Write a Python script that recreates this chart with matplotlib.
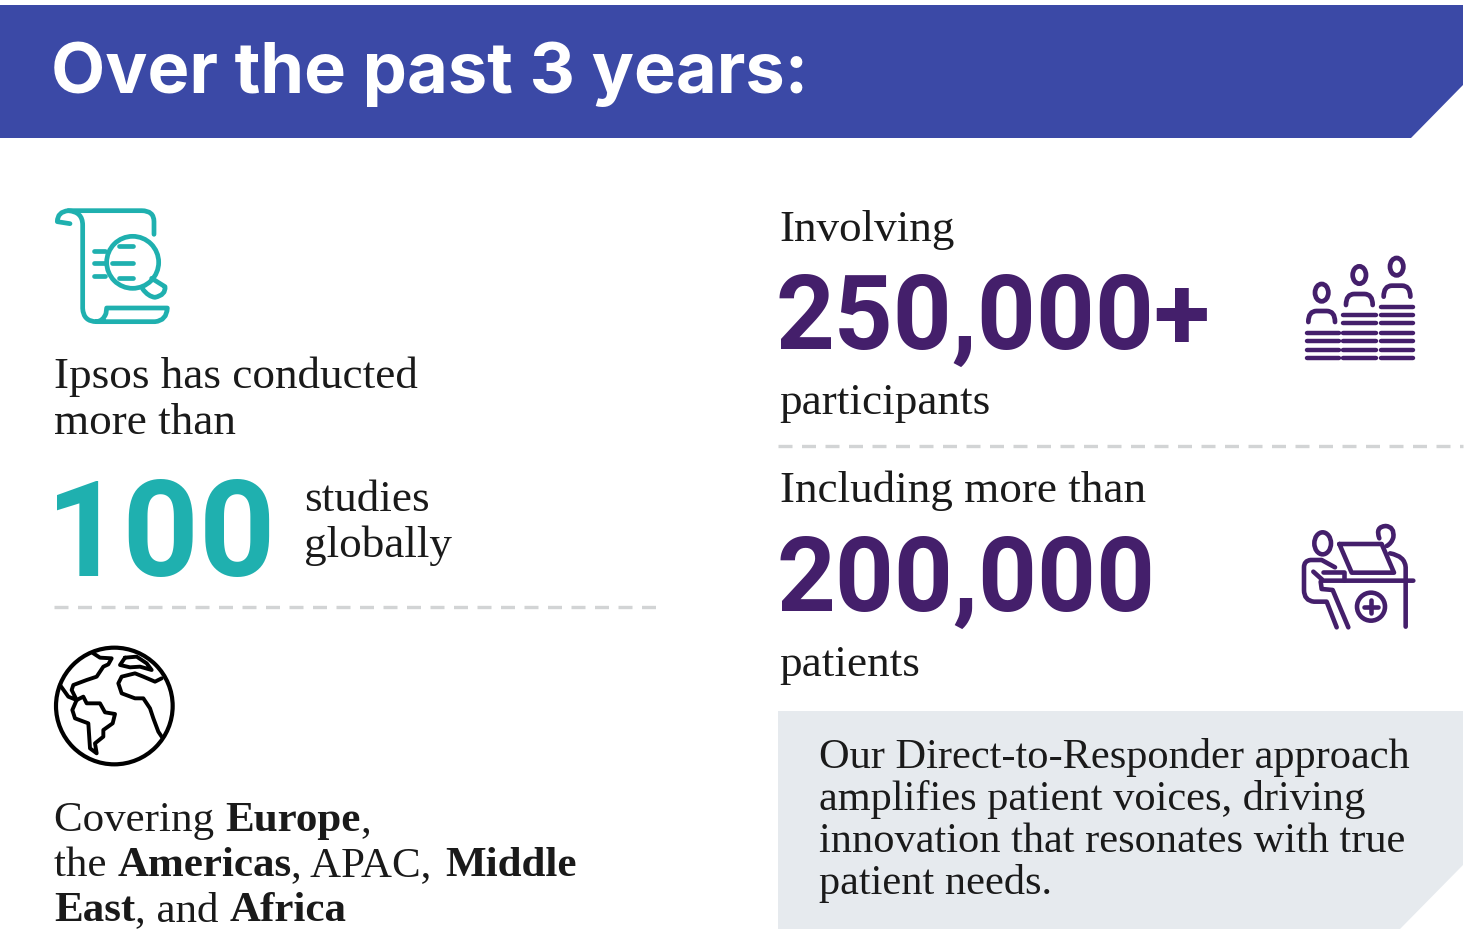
import numpy as np
from matplotlib import pyplot as plt
from matplotlib.path import Path
from matplotlib.patches import PathPatch, Polygon, Circle, Ellipse

BLUE = '#3B49A6'
TEAL = '#1FB0AF'
PURPLE = '#441F6B'
GREY_BOX = '#E6EAEE'
DASH = '#D2D4D5'
INK = '#1A1A1A'

SANS = 'Inter'
DIGITS = 'Roboto'
SERIF = 'Liberation Serif'

title = 'Over the past 3 years:'
big_numbers = ['100', '250,000+', '200,000']
box_lines = ['Our Direct-to-Responder approach',
             'amplifies patient voices, driving',
             'innovation that resonates with true',
             'patient needs.']
region_lines = [[('Covering ', False), ('Europe', True), (',', False)],
                [('the ', False), ('Americas', True), (', APAC, ', False), ('Middle', True)],
                [('East', True), (', and ', False), ('Africa', True)]]

fig = plt.figure(figsize=(14.7, 9.37), dpi=100)
ax = fig.add_axes([0, 0, 1, 1])
ax.set_xlim(0, 1470)
ax.set_ylim(936, -1)
ax.axis('off')


def stroke(spec, color, lw, ox, oy):
    # tiny svg-like path: M x y, L x y, Q cx cy x y, all in zoomed crop pixels (3x)
    tok = spec.split()
    verts, codes = [], []
    i = 0
    while i < len(tok):
        c = tok[i]
        if c == 'M' or c == 'L':
            verts.append((float(tok[i + 1]) / 3 + ox, float(tok[i + 2]) / 3 + oy))
            codes.append(Path.MOVETO if c == 'M' else Path.LINETO)
            i += 3
        else:
            verts.append((float(tok[i + 1]) / 3 + ox, float(tok[i + 2]) / 3 + oy))
            verts.append((float(tok[i + 3]) / 3 + ox, float(tok[i + 4]) / 3 + oy))
            codes += [Path.CURVE3, Path.CURVE3]
            i += 5
    ax.add_patch(PathPatch(Path(verts, codes), fc='none', ec=color, lw=lw,
                           capstyle='round', joinstyle='round'))


def serif(x, y, s, size=32.5, weight='normal', color=INK):
    return ax.text(x, y - 1, s, family=SERIF, fontsize=size, weight=weight, color=color,
                   va='baseline', ha='left')


def runs(x, y, parts, size=31):
    renderer = fig.canvas.get_renderer()
    for s, bold in parts:
        serif(x, y, s, size, 'bold' if bold else 'normal')
        # trailing spaces are not counted by the extent, add them by hand
        probe = serif(x, y, s.replace(' ', '.'), size, 'bold' if bold else 'normal')
        x += probe.get_window_extent(renderer).width
        probe.remove()


# header and grey box
ax.add_patch(Polygon([(0, 5), (1463, 5), (1463, 85), (1411, 138), (0, 138)], fc=BLUE, ec='none'))
ax.add_patch(Polygon([(778, 711), (1463, 711), (1463, 865), (1400, 929), (778, 929)], fc=GREY_BOX, ec='none'))
ax.text(51, 92, title, family=SANS, weight='bold', fontsize=50.7, color='white', va='baseline')

# dashed separators
ax.plot([54, 660], [607, 607], color=DASH, lw=2.4, dashes=(4.2, 2.85))
ax.plot([778, 1463], [446, 446], color=DASH, lw=2.4, dashes=(4.2, 2.85))

# left column
serif(54, 388, 'Ipsos has conducted')
serif(54, 434, 'more than')
ax.text(46, 575, big_numbers[0], family=DIGITS, weight='bold', fontsize=96, color=TEAL, va='baseline')
serif(304, 511, 'studies')
serif(304, 557, 'globally')
for y, parts in zip([831, 876, 921], region_lines):
    runs(54, y, parts)

# right column
serif(779, 241, 'Involving')
ax.text(776, 348, big_numbers[1], family=DIGITS, weight='bold', fontsize=74, color=PURPLE, va='baseline')
serif(779, 414, 'participants')
serif(780, 502, 'Including more than')
ax.text(777, 610, big_numbers[2], family=DIGITS, weight='bold', fontsize=74, color=PURPLE, va='baseline')
serif(779, 676, 'patients')
for y, s in zip([768, 810, 852, 894], box_lines):
    serif(819, y, s, size=30.5)

# scroll icon
ox, oy = 40, 190
for s in ['M 342 133 L 342 95 Q 342 62 305 62 L 85 62 Q 52 65 52 95 L 90 101',
          'M 85 62 Q 128 65 128 105 L 128 355 Q 130 395 170 395 L 345 395 Q 380 392 382 354 L 200 354 L 198 370 Q 190 393 170 395',
          'M 162 183 L 195 183', 'M 162 220 L 195 220', 'M 162 258 L 195 258',
          'M 237 169 L 280 169', 'M 217 219 L 280 219', 'M 237 265 L 280 265',
          'M 335 265 L 375 290 Q 378 315 345 322 Q 325 320 308 297']:
    stroke(s, TEAL, 3.4, ox, oy)
ax.add_patch(Circle((278 / 3 + ox, 217 / 3 + oy), 78 / 3, fc='none', ec=TEAL, lw=3.4))

# people icon
ox, oy = 1290, 240
for cx, cy in [(95, 158), (208, 105), (320, 80)]:
    ax.add_patch(Ellipse((cx / 3 + ox, cy / 3 + oy), 40 / 3, 52 / 3, fc='none', ec=PURPLE, lw=3.4))
for x0, y0 in [(55, 246), (168, 195), (281, 170)]:
    stroke(f'M {x0} {y0} Q {x0} {y0 - 33} {x0 + 25} {y0 - 33} L {x0 + 55} {y0 - 33} Q {x0 + 80} {y0 - 33} {x0 + 80} {y0}',
           PURPLE, 3.4, ox, oy)
bar_rows = [(50, 148, [278, 303, 330, 355]),
            (160, 258, [225, 250, 278, 303, 330, 355]),
            (272, 370, [200, 225, 250, 278, 303, 330, 355])]
for x0, x1, ys in bar_rows:
    for y in ys:
        stroke(f'M {x0} {y} L {x1} {y}', PURPLE, 3.2, ox, oy)

# desk icon
ox, oy = 1290, 510
for s in ['M 135 172 L 95 150 L 62 150 Q 42 152 42 172 L 42 240 Q 42 272 72 275 L 110 275 L 140 352',
          'M 70 185 L 100 212 L 370 212', 'M 100 185 L 162 185 L 162 210',
          'M 92 215 L 95 237 L 128 240 L 175 352',
          'M 148 102 L 275 102 L 312 188 L 185 188 L 148 102',
          'M 268 85 Q 255 50 287 48 Q 314 50 310 82 Q 305 100 290 108',
          'M 300 130 Q 345 138 347 172 L 347 350',
          'M 243 270 L 243 310', 'M 223 290 L 263 290']:
    stroke(s, PURPLE, 3.3, ox, oy)
ax.add_patch(Ellipse((98 / 3 + ox, 100 / 3 + oy), 50 / 3, 66 / 3, fc='none', ec=PURPLE, lw=3.3))
ax.add_patch(Circle((243 / 3 + ox, 290 / 3 + oy), 42 / 3, fc='none', ec=PURPLE, lw=3.3))

# globe icon
ox, oy = 40, 635
ax.add_patch(Circle((223 / 3 + ox, 213 / 3 + oy), 175 / 3, fc='none', ec='black', lw=3.0))
for s in ['M 160 55 L 180 68 L 215 70 L 205 88 L 190 95 L 170 125 L 140 135 L 100 150 L 95 165 L 110 195 L 85 185 L 60 150',
          'M 110 195 L 130 185 L 140 205 L 180 205 L 195 232 L 225 237 L 218 265 L 190 285 L 190 305 L 165 325 L 170 355 L 150 340 L 145 265 L 105 250 L 97 225 L 110 195',
          'M 255 68 L 240 90 L 270 97 L 300 95 L 335 105 L 320 85 L 290 65 L 255 68',
          'M 365 130 L 345 140 L 310 125 L 285 115 L 245 125 L 235 145 L 245 175 L 285 190 L 310 190 L 330 220 L 340 250 L 355 290 L 365 305']:
    stroke(s, 'black', 2.8, ox, oy)

fig.savefig('out.png', dpi=100)
